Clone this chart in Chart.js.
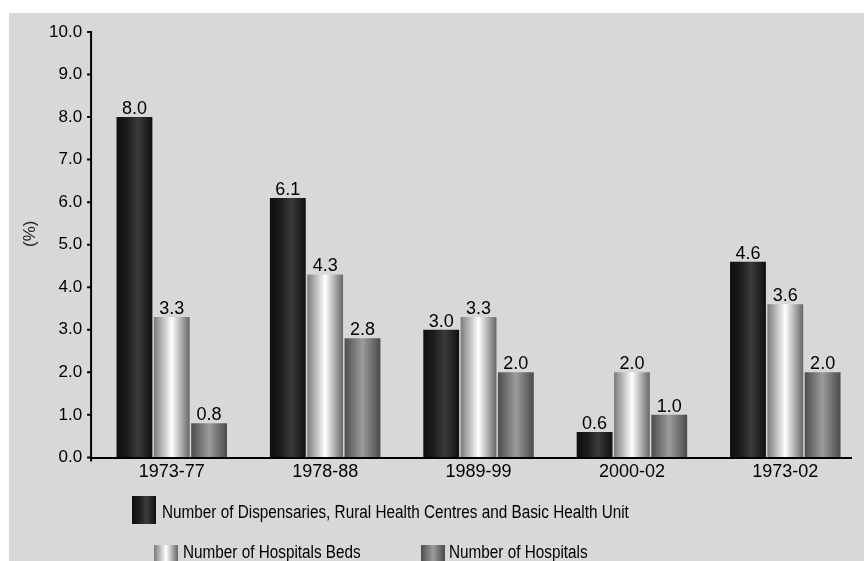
<!DOCTYPE html>
<html>
<head>
<meta charset="utf-8">
<script src="https://cdn.jsdelivr.net/npm/chart.js@4/dist/chart.umd.min.js"></script>
<style>
  html, body { margin: 0; padding: 0; background: #fff; }
  #wrap { width: 864px; height: 561px; }
</style>
</head>
<body>
<div id="wrap"><canvas id="growthChart" width="864" height="561"></canvas></div>
<script>
// periods on the x axis
const categories = ['1973-77', '1978-88', '1989-99', '2000-02', '1973-02'];
// growth rates (%)
const dispensaries = [8.0, 6.1, 3.0, 0.6, 4.6];
const hospitalBeds = [3.3, 4.3, 3.3, 2.0, 3.6];
const hospitals = [0.8, 2.8, 2.0, 1.0, 2.0];
const seriesLabels = [
    'Number of Dispensaries, Rural Health Centres and Basic Health Unit',
    'Number of Hospitals Beds',
    'Number of Hospitals'
];
const yTicks = [0, 1, 2, 3, 4, 5, 6, 7, 8, 9, 10];
const yTitle = '(%)';

const FONT = '"Liberation Sans", Arial, sans-serif';

// horizontal gradient stops for each series (left -> right)
const gradStops = [
    [[0, '#0e0e0e'], [0.3, '#1d1d1d'], [0.6, '#3b3b3b'], [1, '#0f0f0f']],
    [[0, '#7a7a7a'], [0.5, '#ffffff'], [1, '#666666']],
    [[0, '#4d4d4d'], [0.5, '#9c9c9c'], [1, '#4a4a4a']]
];

function makeGrad(ctx, x0, x1, stops) {
    const g = ctx.createLinearGradient(x0, 0, x1, 0);
    stops.forEach(s => g.addColorStop(s[0], s[1]));
    return g;
}

// background: white frame with grey panel
const panelPlugin = {
    id: 'panel',
    beforeDraw(chart) {
        const c = chart.ctx;
        c.save();
        c.fillStyle = '#ffffff';
        c.fillRect(0, 0, chart.width, chart.height);
        c.fillStyle = '#d8d8d8';
        c.fillRect(9, 13, chart.width - 9, chart.height - 13);
        c.restore();
    }
};

// gradient fill for every bar, based on where the library put it
const gradientPlugin = {
    id: 'barGradient',
    beforeDatasetsDraw(chart) {
        chart.data.datasets.forEach((ds, di) => {
            const meta = chart.getDatasetMeta(di);
            meta.data.forEach(el => {
                const p = el.getProps(['x', 'width'], true);
                const g = makeGrad(chart.ctx, p.x - p.width / 2, p.x + p.width / 2, gradStops[di]);
                el.options = Object.assign({}, el.options, { backgroundColor: g });
            });
        });
    }
};

// axis lines, y tick marks, axis title, value labels and legend
const decorPlugin = {
    id: 'decor',
    afterDatasetsDraw(chart) {
        const c = chart.ctx;
        const area = chart.chartArea;
        const yScale = chart.scales.y;
        const axisX = area.left - 4;
        c.save();
        c.strokeStyle = '#000';
        c.lineWidth = 2;
        c.beginPath();
        c.moveTo(axisX, yScale.getPixelForValue(10) - 1);
        c.lineTo(axisX, area.bottom + 4);
        c.moveTo(axisX, area.bottom + 0.5);
        c.lineTo(area.right - 10, area.bottom + 0.5);
        yTicks.forEach(v => {
            const y = yScale.getPixelForValue(v);
            c.moveTo(axisX - 4, y);
            c.lineTo(axisX, y);
        });
        c.stroke();

        // y axis title
        c.fillStyle = '#222';
        c.font = '17px ' + FONT;
        c.textAlign = 'center';
        c.textBaseline = 'middle';
        c.save();
        c.translate(30, (area.top + area.bottom) / 2 - 11);
        c.rotate(-Math.PI / 2);
        c.fillText(yTitle, 0, 0);
        c.restore();

        // value labels above bars
        c.fillStyle = '#000';
        c.font = '18px ' + FONT;
        c.textAlign = 'center';
        c.textBaseline = 'alphabetic';
        chart.data.datasets.forEach((ds, di) => {
            chart.getDatasetMeta(di).data.forEach((el, i) => {
                c.fillText(ds.data[i].toFixed(1), el.x, el.y - 3);
            });
        });

        // legend (text slightly condensed, as in the original)
        const items = [
            { sx: 132, sy: 496, tx: 162, ty: 518 },
            { sx: 154, sy: 545, tx: 183, ty: 558 },
            { sx: 421, sy: 545, tx: 449, ty: 558 }
        ];
        c.font = '18px ' + FONT;
        c.textAlign = 'left';
        items.forEach((it, di) => {
            c.fillStyle = makeGrad(c, it.sx, it.sx + 24, gradStops[di]);
            c.fillRect(it.sx, it.sy, 24, 28);
            c.fillStyle = '#000';
            c.save();
            c.translate(it.tx, it.ty);
            c.scale(0.85, 1);
            c.fillText(seriesLabels[di], 0, 0);
            c.restore();
        });
        c.restore();
    }
};

const ctx = document.getElementById('growthChart').getContext('2d');
const growthChart = new Chart(ctx, {
    type: 'bar',
    data: {
        labels: categories,
        datasets: [
            { label: seriesLabels[0], data: dispensaries, backgroundColor: '#1a1a1a' },
            { label: seriesLabels[1], data: hospitalBeds, backgroundColor: '#bbbbbb' },
            { label: seriesLabels[2], data: hospitals, backgroundColor: '#777777' }
        ]
    },
    options: {
        responsive: false,
        animation: false,
        devicePixelRatio: 1,
        layout: { padding: { left: 36, right: 2, top: 32, bottom: 74 } },
        datasets: {
            bar: { categoryPercentage: 0.73, barPercentage: 0.96, borderWidth: 0 }
        },
        plugins: {
            legend: { display: false },
            tooltip: { enabled: false }
        },
        scales: {
            x: {
                grid: { display: false, drawTicks: false },
                border: { display: false },
                ticks: { color: '#000', font: { family: FONT, size: 18 }, padding: 4, maxRotation: 0 }
            },
            y: {
                min: 0,
                max: 10,
                grid: { display: false, drawTicks: false },
                border: { display: false },
                afterBuildTicks(scale) {
                    scale.ticks = yTicks.map(v => ({ value: v }));
                },
                ticks: {
                    color: '#000',
                    font: { family: FONT, size: 17 },
                    padding: 13,
                    callback: v => v.toFixed(1)
                }
            }
        }
    },
    plugins: [panelPlugin, gradientPlugin, decorPlugin]
});
</script>
</body>
</html>
